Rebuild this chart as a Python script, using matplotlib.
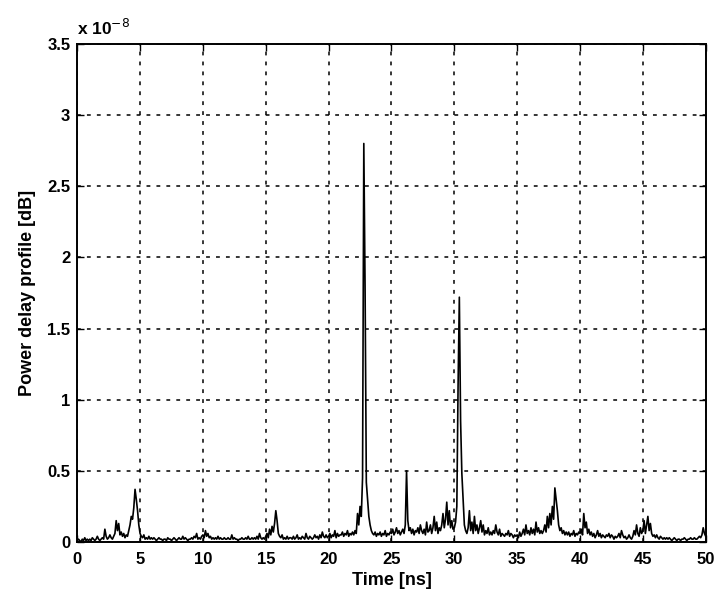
import numpy as np
import matplotlib.pyplot as plt
import matplotlib.ticker as ticker

plt.rcParams['font.family'] = ['Liberation Sans', 'DejaVu Sans']

## Datos ======================================================================
# Perfil de retardo de potencia (x 1e-8), muestreado cada 0.1 ns de 0 a 50 ns
t_start, t_stop, t_step = 0.0, 50.0, 0.1
pdp = [
    0.01, 0.02, 0.01, 0.00, 0.02, 0.01, 0.03, 0.01, 0.02, 0.01,   # 0 ns
    0.02, 0.01, 0.03, 0.02, 0.01, 0.02, 0.04, 0.02, 0.01, 0.02,   # 1
    0.03, 0.02, 0.09, 0.04, 0.02, 0.03, 0.05, 0.03, 0.02, 0.04,   # 2
    0.06, 0.15, 0.08, 0.13, 0.05, 0.07, 0.04, 0.06, 0.03, 0.05,   # 3
    0.04, 0.08, 0.12, 0.18, 0.16, 0.24, 0.37, 0.30, 0.22, 0.12,   # 4
    0.06, 0.04, 0.03, 0.05, 0.02, 0.03, 0.02, 0.04, 0.02, 0.03,   # 5
    0.02, 0.03, 0.02, 0.01, 0.02, 0.03, 0.02, 0.02, 0.01, 0.02,   # 6
    0.02, 0.01, 0.03, 0.02, 0.02, 0.01, 0.02, 0.03, 0.02, 0.01,   # 7
    0.02, 0.03, 0.02, 0.02, 0.04, 0.02, 0.03, 0.02, 0.01, 0.02,   # 8
    0.02, 0.03, 0.02, 0.04, 0.03, 0.06, 0.02, 0.03, 0.02, 0.04,   # 9
    0.05, 0.03, 0.08, 0.04, 0.06, 0.03, 0.04, 0.02, 0.03, 0.02,   # 10
    0.03, 0.02, 0.04, 0.02, 0.03, 0.02, 0.02, 0.03, 0.02, 0.02,   # 11
    0.03, 0.02, 0.02, 0.05, 0.02, 0.03, 0.02, 0.02, 0.01, 0.02,   # 12
    0.02, 0.03, 0.02, 0.02, 0.03, 0.02, 0.04, 0.02, 0.02, 0.03,   # 13
    0.02, 0.03, 0.02, 0.04, 0.02, 0.06, 0.03, 0.02, 0.03, 0.02,   # 14
    0.04, 0.06, 0.03, 0.09, 0.05, 0.11, 0.07, 0.13, 0.22, 0.15,   # 15
    0.06, 0.04, 0.03, 0.05, 0.02, 0.03, 0.02, 0.04, 0.02, 0.03,   # 16
    0.03, 0.02, 0.04, 0.02, 0.03, 0.05, 0.02, 0.03, 0.02, 0.04,   # 17
    0.03, 0.02, 0.06, 0.03, 0.02, 0.04, 0.03, 0.02, 0.03, 0.05,   # 18
    0.03, 0.04, 0.02, 0.05, 0.03, 0.07, 0.04, 0.03, 0.05, 0.03,   # 19
    0.04, 0.06, 0.03, 0.05, 0.04, 0.08, 0.03, 0.06, 0.04, 0.05,   # 20
    0.05, 0.07, 0.04, 0.06, 0.05, 0.08, 0.04, 0.06, 0.05, 0.07,   # 21
    0.05, 0.08, 0.06, 0.20, 0.12, 0.25, 0.18, 0.45, 2.80, 1.80,   # 22
    0.42, 0.30, 0.18, 0.12, 0.08, 0.06, 0.05, 0.07, 0.04, 0.06,   # 23
    0.05, 0.07, 0.04, 0.06, 0.05, 0.08, 0.04, 0.06, 0.05, 0.07,   # 24
    0.06, 0.09, 0.05, 0.07, 0.10, 0.06, 0.08, 0.05, 0.07, 0.09,   # 25
    0.06, 0.12, 0.50, 0.15, 0.08, 0.10, 0.06, 0.09, 0.05, 0.08,   # 26
    0.07, 0.10, 0.06, 0.12, 0.08, 0.06, 0.09, 0.05, 0.14, 0.07,   # 27
    0.08, 0.12, 0.06, 0.10, 0.18, 0.08, 0.14, 0.06, 0.10, 0.08,   # 28
    0.12, 0.20, 0.10, 0.16, 0.28, 0.12, 0.22, 0.10, 0.15, 0.09,   # 29
    0.10, 0.14, 0.25, 1.10, 1.72, 0.85, 0.48, 0.30, 0.12, 0.08,   # 30
    0.06, 0.10, 0.22, 0.08, 0.14, 0.06, 0.18, 0.08, 0.12, 0.06,   # 31
    0.10, 0.15, 0.07, 0.12, 0.05, 0.08, 0.06, 0.10, 0.05, 0.07,   # 32
    0.05, 0.08, 0.06, 0.12, 0.07, 0.05, 0.09, 0.04, 0.06, 0.05,   # 33
    0.04, 0.06, 0.05, 0.08, 0.04, 0.06, 0.05, 0.03, 0.05, 0.04,   # 34
    0.05, 0.03, 0.07, 0.04, 0.06, 0.09, 0.05, 0.12, 0.06, 0.08,   # 35
    0.05, 0.10, 0.06, 0.09, 0.05, 0.14, 0.07, 0.10, 0.06, 0.08,   # 36
    0.06, 0.08, 0.12, 0.07, 0.18, 0.10, 0.20, 0.12, 0.25, 0.16,   # 37
    0.38, 0.30, 0.22, 0.12, 0.08, 0.10, 0.06, 0.08, 0.05, 0.07,   # 38
    0.05, 0.07, 0.04, 0.06, 0.05, 0.08, 0.04, 0.06, 0.05, 0.07,   # 39
    0.06, 0.09, 0.05, 0.20, 0.10, 0.14, 0.06, 0.09, 0.05, 0.07,   # 40
    0.04, 0.06, 0.03, 0.05, 0.08, 0.04, 0.06, 0.03, 0.05, 0.04,   # 41
    0.03, 0.05, 0.04, 0.06, 0.03, 0.05, 0.04, 0.02, 0.04, 0.03,   # 42
    0.04, 0.06, 0.03, 0.08, 0.05, 0.03, 0.04, 0.02, 0.03, 0.05,   # 43
    0.03, 0.02, 0.04, 0.08, 0.05, 0.12, 0.06, 0.04, 0.10, 0.06,   # 44
    0.08, 0.15, 0.06, 0.12, 0.18, 0.08, 0.13, 0.06, 0.04, 0.05,   # 45
    0.03, 0.05, 0.03, 0.02, 0.04, 0.03, 0.02, 0.03, 0.02, 0.03,   # 46
    0.02, 0.03, 0.02, 0.01, 0.02, 0.03, 0.02, 0.01, 0.02, 0.02,   # 47
    0.01, 0.02, 0.02, 0.03, 0.02, 0.01, 0.02, 0.02, 0.03, 0.02,   # 48
    0.02, 0.03, 0.02, 0.02, 0.03, 0.04, 0.03, 0.05, 0.10, 0.06,   # 49
    0.04,                                                         # 50
]
t_ns = np.arange(len(pdp)) * t_step + t_start

x_ticks = np.arange(0, 55, 5)
y_ticks = np.arange(0, 4.0, 0.5)
y_ticklabels = ["0", "0.5", "1", "1.5", "2", "2.5", "3", "3.5"]


## Visualización ==============================================================
fig = plt.figure(figsize=(7.15, 5.93), dpi=100)
ax = fig.add_axes([0.108, 0.086, 0.879, 0.840])

ax.plot(t_ns, pdp, color="black", linewidth=1.2)

ax.set_xlim(t_start, t_stop)
ax.set_ylim(0, 3.5)
ax.xaxis.set_major_locator(ticker.FixedLocator(x_ticks))
ax.set_yticks(y_ticks)
ax.set_yticklabels(y_ticklabels)

ax.grid(True, color="black", linestyle=(0, (2.5, 4)), linewidth=1.1)
ax.tick_params(direction='in', which='both', length=5, width=1,
               top=True, right=True, labelsize=12)
ax.tick_params(axis='x', pad=7)
ax.tick_params(axis='y', pad=5)
for lab in ax.get_xticklabels() + ax.get_yticklabels():
    lab.set_fontweight("bold")
for s in ax.spines.values():
    s.set_linewidth(1.4)

ax.set_xlabel("Time [ns]", fontsize=13, fontweight="bold", labelpad=4)
ax.set_ylabel("Power delay profile [dB]", fontsize=13, fontweight="bold", labelpad=8)
ax.text(0.0, 1.012, "x 10$^{-8}$", transform=ax.transAxes,
        fontsize=12.5, fontweight="bold", ha="left", va="bottom")

plt.savefig("out.png", dpi=100)
